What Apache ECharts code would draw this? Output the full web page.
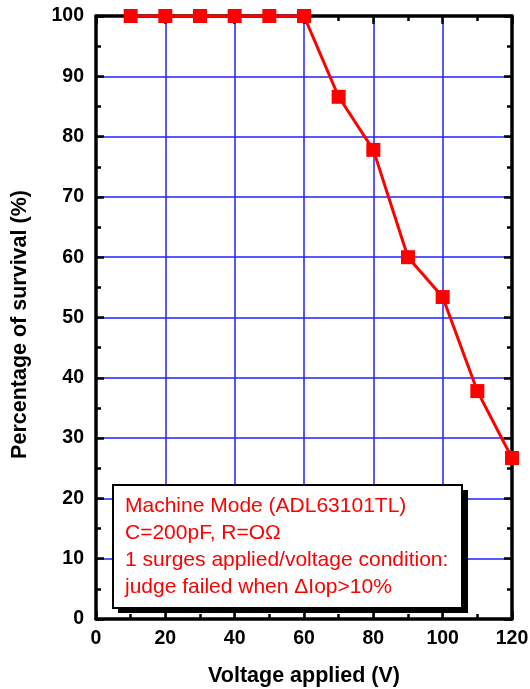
<!DOCTYPE html>
<html><head><meta charset="utf-8">
<script src="https://cdn.jsdelivr.net/npm/echarts@6/dist/echarts.min.js"></script>
<style>html,body{margin:0;padding:0;background:#fff}#c{width:530px;height:689px}</style>
</head><body><div id="c"></div>
<script>
const voltages = [10, 20, 30, 40, 50, 60, 70, 80, 90, 100, 110, 120];
const survival = [100, 100, 100, 100, 100, 100, 86.6, 77.8, 60.0, 53.4, 37.8, 26.7];
const xTitle = 'Voltage applied (V)';
const yTitle = 'Percentage of survival (%)';
const noteLines = [
  'Machine Mode (ADL63101TL)',
  'C=200pF, R=OΩ',
  '1 surges applied/voltage condition:',
  'judge failed when ΔIop>10%'
];
const F = '"Liberation Sans", Arial, sans-serif';
const chart = echarts.init(document.getElementById('c'), null, {renderer: 'canvas'});
const lbl = {fontFamily: F, fontWeight: 'bold', fontSize: 19.5, color: '#000'};
const axLine = {show: true, onZero: false, lineStyle: {color: '#000', width: 3.5}};
const tick = {show: true, inside: true, length: 8, lineStyle: {color: '#000', width: 2.5}};
const minor = {show: true, splitNumber: 2, length: 5, lineStyle: {color: '#000', width: 2.5}};
const grid = {show: true, lineStyle: {color: '#2020ff', width: 1.5}};
const nameStyle = {fontFamily: F, fontWeight: 'bold', fontSize: 21.5, color: '#000'};
chart.setOption({
  animation: false,
  grid: {left: 96, right: 18, top: 16, bottom: 70, containLabel: false, outerBoundsMode: 'none'},
  xAxis: [{
    type: 'value', min: 0, max: 120, interval: 20, position: 'bottom',
    axisLine: axLine, axisTick: tick, minorTick: minor, splitLine: grid,
    axisLabel: Object.assign({margin: 10}, lbl),
    name: xTitle, nameLocation: 'middle', nameGap: 46, nameTextStyle: nameStyle
  }, {
    type: 'value', min: 0, max: 120, interval: 20, position: 'top',
    axisLine: axLine, axisTick: tick, minorTick: minor,
    splitLine: {show: false}, axisLabel: {show: false}
  }],
  yAxis: [{
    type: 'value', min: 0, max: 100, interval: 10, position: 'left',
    axisLine: axLine, axisTick: tick, minorTick: minor, splitLine: grid,
    axisLabel: Object.assign({margin: 12}, lbl),
    name: yTitle, nameLocation: 'middle', nameGap: 65,
    nameTextStyle: Object.assign({padding: [0, 14, 0, 0]}, nameStyle)
  }, {
    type: 'value', min: 0, max: 100, interval: 10, position: 'right',
    axisLine: axLine, axisTick: tick, minorTick: minor,
    splitLine: {show: false}, axisLabel: {show: false}
  }],
  series: [{
    type: 'line', xAxisIndex: 0, yAxisIndex: 0,
    data: voltages.map((v, i) => [v, survival[i]]),
    symbol: 'rect', symbolSize: 14, clip: false, z: 5,
    lineStyle: {color: '#ff0000', width: 3},
    itemStyle: {color: '#ff0000'}
  }],
  graphic: [
    {type: 'rect', left: 118, top: 490, z: 20, shape: {width: 350, height: 123}, style: {fill: '#000'}},
    {type: 'rect', left: 112, top: 484, z: 21, shape: {width: 349, height: 123}, style: {fill: '#fff', stroke: '#000', lineWidth: 2}},
    {type: 'text', left: 125, top: 493, z: 22, style: {
      text: noteLines.join('\n'), fill: '#ff0000', font: '21px ' + F, lineHeight: 27
    }}
  ]
});
</script></body></html>
